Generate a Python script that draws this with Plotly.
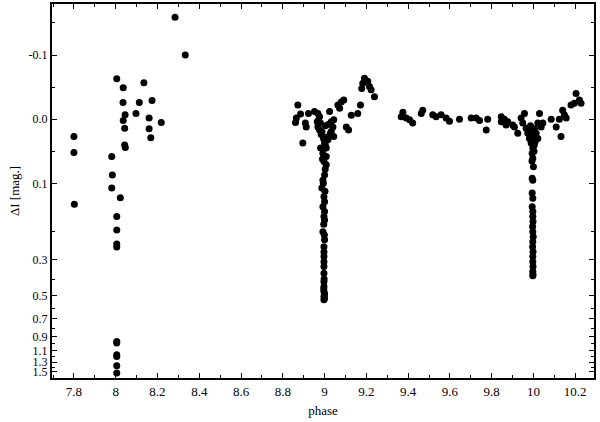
import numpy as np
import plotly.graph_objects as go

# ---- data (phase, Delta I in mag) ----
phase_a = [7.800, 7.800, 7.802, 8.005, 8.036, 8.035, 8.045, 8.036, 8.043, 8.043, 8.046,
           7.981, 7.984, 7.981, 8.022, 8.135, 8.113, 8.097, 8.174, 8.160, 8.160, 8.168,
           8.218, 8.284, 8.333, 8.005, 8.005, 8.005, 8.005, 8.005, 8.005, 8.005, 8.005,
           8.005, 8.005]
dmag_a = [0.027, 0.052, 0.135, -0.063, -0.049, -0.026, -0.007, 0.002, 0.014, 0.040, 0.044,
          0.058, 0.087, 0.107, 0.123, -0.057, -0.026, -0.009, -0.029, -0.002, 0.015, 0.029,
          0.005, -0.159, -0.100, 0.161, 0.195, 0.239, 0.249, 0.968, 0.990, 1.17, 1.20,
          1.37, 1.52]

phase_b = [8.872, 8.885, 8.865, 8.861, 8.908, 8.912, 8.923, 8.952, 8.968, 8.896, 8.965,
           8.968, 8.976, 8.984, 9.024, 9.032, 9.044, 9.040, 9.032, 9.044, 9.016, 9.000,
           8.981, 9.008, 8.992, 9.008, 8.997, 9.008, 9.000, 8.992, 8.987, 8.997, 9.000,
           8.992, 8.997, 9.000, 8.992, 9.000, 8.997, 8.997, 8.997, 8.997, 8.997, 8.997,
           8.997, 8.997, 8.997, 8.997, 9.064, 9.080, 9.092, 9.072, 9.104, 9.115, 9.128,
           9.159, 9.172, 9.191, 9.183, 9.178, 9.215, 9.223, 9.239, 9.207,
           9.004, 8.988, 9.012, 8.995, 9.020, 8.980, 9.028, 9.004, 8.990, 9.003, 8.994,
           9.002, 9.000, 8.996, 8.999, 8.997, 8.998, 8.996, 9.000, 9.000, 8.976, 8.970]
dmag_b = [-0.022, -0.008, -0.002, 0.005, 0.006, 0.012, -0.009, -0.012, -0.009, 0.037, 0.004,
          0.012, 0.017, 0.024, -0.012, 0.004, 0.001, 0.012, 0.019, 0.027, 0.032, 0.037,
          0.045, 0.045, 0.053, 0.058, 0.066, 0.071, 0.087, 0.095, 0.107, 0.121, 0.130,
          0.140, 0.161, 0.169, 0.200, 0.225, 0.248, 0.286, 0.308, 0.330, 0.363, 0.410,
          0.440, 0.473, 0.508, 0.532, -0.022, -0.027, -0.030, -0.017, 0.012, 0.017, -0.006,
          -0.009, -0.022, -0.064, -0.056, -0.048, -0.051, -0.046, -0.035, -0.059,
          0.010, 0.020, 0.028, 0.030, 0.008, 0.006, 0.022, 0.040, 0.062, 0.078, 0.100,
          0.112, 0.150, 0.180, 0.210, 0.268, 0.395, 0.455, 0.490, 0.520, -0.004, 0.002]

phase_c = [9.375, 9.367, 9.391, 9.407, 9.422, 9.463, 9.470, 9.518, 9.534, 9.558, 9.582,
           9.598, 9.646, 9.702, 9.726, 9.742, 9.774, 9.781, 9.846, 9.846, 9.861, 9.877,
           9.869, 9.901, 9.909, 9.925, 9.941, 9.957, 9.949, 9.965, 9.973, 9.981, 9.989,
           9.997, 9.994, 9.997, 10.000, 9.994, 9.997, 9.994, 9.997, 9.994, 9.997,
           9.997, 9.998, 9.996, 9.997, 9.999, 9.997, 9.996, 9.998, 9.997, 9.997, 9.998,
           9.997, 9.997, 9.998,
           10.021, 10.029, 10.037, 10.045, 10.013, 10.021, 10.085, 10.109, 10.132, 10.124,
           10.148, 10.140, 10.157, 10.180, 10.196, 10.204, 10.220, 10.228,
           9.985, 10.005, 10.008, 9.990, 10.003, 9.993, 10.004, 9.986, 10.010]
dmag_c = [-0.011, -0.004, -0.002, 0.001, 0.006, -0.009, -0.014, -0.007, -0.004, -0.007, -0.002,
          0.003, 0.000, -0.002, -0.002, 0.002, 0.017, 0.000, -0.004, 0.004, 0.000, 0.004,
          0.009, 0.009, 0.012, 0.022, -0.002, -0.009, 0.006, 0.014, 0.022, 0.030, 0.037,
          0.045, 0.053, 0.061, 0.074, 0.092, 0.095, 0.115, 0.124, 0.140, 0.150,
          0.161, 0.173, 0.186, 0.200, 0.215, 0.231, 0.248, 0.267, 0.286, 0.308, 0.330,
          0.355, 0.377, 0.370,
          0.006, -0.009, 0.012, 0.006, 0.022, 0.030, 0.000, 0.012, 0.027, 0.000,
          -0.007, -0.014, -0.002, -0.022, -0.025, -0.040, -0.030, -0.025,
          0.020, 0.015, 0.035, 0.028, 0.050, 0.065, 0.040, 0.010, 0.025]

ytick_labels = ["-0.1", "0.0", "0.1", "0.3", "0.5", "0.7", "0.9", "1.1", "1.3", "1.5"]
ytick_values = [-0.1, 0.0, 0.1, 0.3, 0.5, 0.7, 0.9, 1.1, 1.3, 1.5]
yminor_values = [-0.15, -0.05, 0.05, 0.2, 0.4, 0.6, 0.8, 1.0, 1.2, 1.4]


def tf(v):
    """Axis scale: linear below 0.1 mag, logarithmic above."""
    v = np.asarray(v, dtype=float)
    return np.where(v <= 0.1, v, 0.1 + 0.25 * np.log10(np.maximum(v, 1e-9) / 0.1))


phase = phase_a + phase_b + phase_c
dmag = dmag_a + dmag_b + dmag_c

fig = go.Figure()
fig.add_trace(go.Scatter(
    x=phase, y=tf(dmag), mode="markers",
    marker=dict(color="black", size=7, line=dict(width=0)),
    showlegend=False, hoverinfo="skip"))

font = dict(family="Liberation Serif", size=13, color="black")

fig.update_layout(
    width=600, height=422,
    margin=dict(l=52, r=6, t=4, b=44),
    paper_bgcolor="white", plot_bgcolor="white",
    font=font,
)
fig.update_xaxes(
    range=[7.695, 10.29], tickmode="linear", tick0=7.8, dtick=0.2,
    ticks="inside", ticklen=5, tickwidth=1, tickcolor="black",
    minor=dict(ticks="inside", ticklen=3, dtick=0.1, tick0=7.7, tickcolor="black", showgrid=False),
    showline=True, linecolor="black", linewidth=2, mirror="ticks",
    showgrid=False, zeroline=False, automargin=False,
    title=dict(text="phase", standoff=8, font=font),
)
fig.update_yaxes(
    range=[0.4034, -0.1796],
    tickmode="array", tickvals=list(tf(ytick_values)), ticktext=ytick_labels,
    tickfont=dict(family="Liberation Serif", size=12, color="black"),
    ticks="inside", ticklen=5, tickwidth=1, tickcolor="black",
    minor=dict(ticks="inside", ticklen=3, tickmode="array", tickvals=list(tf(yminor_values)),
               tickcolor="black", showgrid=False),
    showline=True, linecolor="black", linewidth=2, mirror="ticks",
    showgrid=False, zeroline=False, automargin=False,
    title=dict(text="ΔI [mag.]", standoff=6, font=font),
)

fig.write_html(
    "out.html",
    config={"displayModeBar": False},
    post_script="document.body.style.margin='0';document.body.style.padding='0';"
                "document.documentElement.style.overflow='hidden';",
)
